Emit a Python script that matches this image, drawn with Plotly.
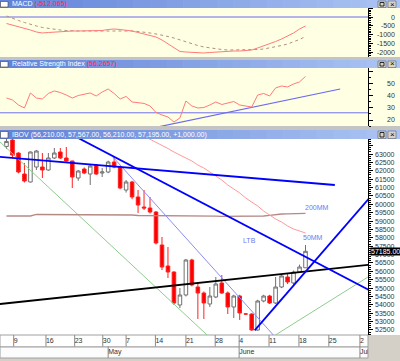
import plotly.graph_objects as go

W, H = 400, 361
FONT = "Liberation Sans"

# ---------------- data ----------------
bar = list(range(51))
opn = [63450, 63835, 63060, 61807, 61330, 62224, 62224, 62045, 62761, 63119,
       62761, 62582, 61568, 62105, 61807, 62344, 61866, 61926, 62523, 62224,
       60852, 61330, 60435, 59838, 59778, 59540, 57571, 56318, 55960, 53991,
       54588, 56676, 55065, 54707, 54051, 54469, 55304, 54707, 53872, 54528,
       53454, 53454, 52500, 54230, 54528, 54111, 55065, 55662, 55304, 55960,
       56210]
high = [63900, 63900, 63100, 62463, 63150, 63240, 63060, 63060, 63358, 63358,
        63418, 62600, 62050, 62200, 62350, 62400, 62165, 62600, 62821, 62300,
        61450, 61400, 60852, 60852, 60435, 59600, 58048, 57452, 56000, 55005,
        56736, 56750, 55363, 54800, 55065, 55662, 55781, 54800, 54600, 54600,
        53500, 53500, 54300, 54600, 54600, 55662, 55800, 55841, 56050, 56400,
        57567]
low = [63300, 62800, 61850, 61300, 61300, 62045, 61568, 62000, 62700, 62700,
       62550, 60972, 61400, 61800, 61150, 61750, 61628, 61850, 62150, 60900,
       60700, 60300, 59480, 59659, 59450, 57600, 56079, 55602, 54000, 53812,
       54500, 55100, 53156, 53156, 53872, 54400, 54650, 53454, 53216, 53096,
       53400, 52450, 52450, 54150, 54050, 54050, 55000, 55244, 55200, 55900,
       56210]
close = [63750, 62940, 61926, 61389, 63119, 63179, 62045, 62761, 63060, 62761,
         62582, 61628, 61986, 61866, 62284, 61807, 61926, 62523, 62224, 60972,
         61330, 60435, 59957, 59778, 59540, 57690, 56258, 55960, 54111, 54588,
         56676, 55184, 54707, 54111, 54528, 55244, 54707, 53872, 54528, 53514,
         53454, 52500, 54230, 54528, 54111, 55065, 55722, 55364, 55960, 56258,
         57195]

mm200 = [59301, 59301, 59301, 59301, 59301, 59391, 59391, 59391, 59391, 59391,
         59391, 59361, 59361, 59361, 59361, 59361, 59361, 59361, 59361, 59361,
         59361, 59361, 59331, 59331, 59331, 59331, 59331, 59331, 59331, 59331,
         59331, 59331, 59331, 59331, 59300, 59290, 59280, 59280, 59280, 59280,
         59280, 59270, 59270, 59300, 59340, 59390, 59420, 59430, 59445, 59455,
         59462]
mm50_bar = list(range(21, 51))
mm50 = [64432, 64253, 64074, 63865, 63716, 63537, 63328, 63119, 62940, 62761,
        62582, 62344, 62165, 61926, 61687, 61449, 61150, 60912, 60673, 60375,
        60136, 59898, 59599, 59361, 59122, 58943, 58704, 58525, 58406, 58287]

macd = [-371, -457, -543, -629, -743, -857, -914, -886, -857, -857,
        -829, -800, -800, -800, -800, -800, -771, -714, -686, -714,
        -743, -800, -886, -971, -1057, -1143, -1314, -1543, -1771, -1971,
        -2000, -2029, -2057, -2057, -2029, -2000, -2000, -1971, -1943, -1943,
        -1914, -1886, -1771, -1657, -1514, -1400, -1257, -1086, -914, -686,
        -512]
signal = [57, -86, -200, -314, -429, -514, -600, -657, -714, -743,
          -771, -800, -800, -800, -800, -800, -800, -800, -771, -771,
          -771, -800, -829, -857, -914, -971, -1029, -1114, -1200, -1314,
          -1429, -1543, -1629, -1714, -1771, -1829, -1857, -1886, -1886, -1886,
          -1886, -1886, -1857, -1829, -1771, -1714, -1629, -1543, -1429, -1286,
          -1114]
rsi = [38.3, 36.7, 32.5, 30.0, 42.5, 38.3, 37.5, 42.1, 44.2, 42.9,
       40.8, 38.3, 40.4, 41.7, 42.5, 40.0, 43.3, 45.8, 42.1, 37.5,
       39.6, 35.0, 34.6, 33.8, 31.7, 26.3, 24.2, 22.5, 18.3, 21.7,
       35.8, 31.7, 30.0, 30.4, 32.5, 35.0, 32.9, 34.2, 35.4, 32.5,
       31.7, 30.8, 40.8, 42.1, 40.0, 46.7, 48.3, 47.5, 50.0, 51.7,
       56.3]
rsi_level = 26
rsi_trend_x = [25, 55.8]
rsi_trend_y = [13.9, 45.8]
macd_zero = 0

# drawn trend lines (bar index, price)
resist_x, resist_y = [-1.2, 54.9], [62827, 61150]
ltb_x, ltb_y = [11, 61], [64140, 54810]
eta_x, eta_y = [41.5, 61], [52480, 60510]
support_x, support_y = [-1.2, 61], [54045, 56400]
thin_x, thin_y = [17.8, 45], [62820, 52050]
green1_x, green1_y = [-1.2, 35], [63754, 51716]
green2_x, green2_y = [44.3, 61], [52050, 55785]

day_labels = ["9", "16", "23", "30", "7", "14", "21", "28", "4", "11", "18", "25", "2"]
day_ticks = [1.2, 6.6, 11.4, 16.1, 20.0, 24.9, 30.0, 34.9, 38.9, 43.9, 48.9, 53.9, 59.1]
month_labels = ["April", "May", "June", "July"]
month_ticks = [-3.4, 17.0, 38.9, 59.1]

macd_ticks = [0, -500, -1000, -1500, -2000]
rsi_ticks = [20, 30, 40, 50]
price_ticks = list(range(52500, 63001, 500))
last_price_label = "57185.00"
last_close = 57195

# ---------------- figure ----------------
fig = go.Figure()
P = dict(xaxis="x", hoverinfo="skip", showlegend=False)

# MACD pane
fig.add_trace(go.Scatter(x=[-2, 62], y=[macd_zero, macd_zero], mode="lines",
                         line=dict(color="#6A6AF5", width=1), yaxis="y", **P))
fig.add_trace(go.Scatter(x=bar, y=signal, mode="lines",
                         line=dict(color="#B09080", width=1, dash="dot"), yaxis="y", **P))
fig.add_trace(go.Scatter(x=bar, y=macd, mode="lines",
                         line=dict(color="#FF7A7A", width=1), yaxis="y", **P))

# RSI pane
fig.add_trace(go.Scatter(x=[-2, 62], y=[rsi_level, rsi_level], mode="lines",
                         line=dict(color="#7070F0", width=1), yaxis="y2", **P))
fig.add_trace(go.Scatter(x=rsi_trend_x, y=rsi_trend_y, mode="lines",
                         line=dict(color="#6A6AF0", width=1.2), yaxis="y2", **P))
fig.add_trace(go.Scatter(x=bar, y=rsi, mode="lines",
                         line=dict(color="#FF7A7A", width=1), yaxis="y2", **P))

# price pane lines
def pline(x, y, color, width):
    fig.add_trace(go.Scatter(x=x, y=y, mode="lines", line=dict(color=color, width=width),
                             yaxis="y3", **P))

pline(green1_x, green1_y, "#8FCC8F", 1)
pline(green2_x, green2_y, "#8FCC8F", 1)
pline(bar, mm200, "#B58A86", 1.3)
pline(mm50_bar, mm50, "#FF9A9A", 1)
pline(thin_x, thin_y, "#8C8CF5", 1)

fig.add_trace(go.Candlestick(
    x=bar, open=opn, high=high, low=low, close=close, yaxis="y3", xaxis="x",
    increasing=dict(line=dict(color="#707070", width=1), fillcolor="white"),
    decreasing=dict(line=dict(color="#FF2020", width=1), fillcolor="#FF0000"),
    whiskerwidth=0, hoverinfo="skip", showlegend=False))

pline(support_x, support_y, "#000000", 1.8)
pline(resist_x, resist_y, "#0000FF", 1.8)
pline(ltb_x, ltb_y, "#0000FF", 1.8)
pline(eta_x, eta_y, "#0000FF", 1.8)

# x-axis date rows (text clipped by the axis)
tick_lx, tick_ly = [], []
for t in day_ticks:
    tick_lx += [t, t, None]
    tick_ly += [1.0, 2.0, None]
for t in month_ticks[1:]:
    tick_lx += [t, t, None]
    tick_ly += [0.0, 1.0, None]
fig.add_trace(go.Scatter(x=tick_lx, y=tick_ly, mode="lines",
                         line=dict(color="#8A8A8A", width=1), yaxis="y4", **P))
fig.add_trace(go.Scatter(x=day_ticks, y=[1.5] * len(day_ticks), mode="text",
                         text=day_labels, textposition="middle right",
                         textfont=dict(family=FONT, size=7, color="#333333"),
                         cliponaxis=True, yaxis="y4", **P))
fig.add_trace(go.Scatter(x=month_ticks, y=[0.5] * len(month_ticks), mode="text",
                         text=month_labels, textposition="middle right",
                         textfont=dict(family=FONT, size=7, color="#333333"),
                         cliponaxis=True, yaxis="y4", **P))

# ---------------- decoration ----------------
shapes, ann = [], []


def prect(x0, y0, x1, y1, fill, lw=0, lc=None, layer="below"):
    shapes.append(dict(type="rect", xref="paper", yref="paper",
                       x0=x0 / W, x1=x1 / W, y0=1 - y1 / H, y1=1 - y0 / H,
                       fillcolor=fill, line=dict(width=lw, color=lc or fill), layer=layer))


prect(0, 8, 400, 57, "#FFFFE4")
prect(0, 57, 400, 60, "#C4C4C4")
prect(0, 68, 400, 126, "#FFFFE4")
prect(0, 126, 400, 130, "#C4C4C4")
prect(0, 139, 400, 335, "#FFFFFF")
prect(0, 335, 368, 347, "#FFFFFF", 1, "#A0A0A0")
prect(0, 347, 368, 358, "#FCFCFC", 1, "#A0A0A0")


def lerp(c1, c2, t):
    a = [int(c1[i:i + 2], 16) for i in (1, 3, 5)]
    b = [int(c2[i:i + 2], 16) for i in (1, 3, 5)]
    return "#%02X%02X%02X" % tuple(round(a[k] + (b[k] - a[k]) * t) for k in range(3))


headers = [(0, 8, 'MACD <span style="color:#FF2A2A">(-512.065)</span>'),
           (60, 68, 'Relative Strength Index <span style="color:#FF2A2A">(56.2657)</span>'),
           (130, 139, "IBOV (56,210.00, 57,567.00, 56,210.00, 57,195.00, +1,000.00)")]
N = 24
for top, bot, title in headers:
    for k in range(N):
        prect(400 * k / N, top, 400 * (k + 1) / N + 0.5, bot,
              lerp("#6283D8", "#ABC4F3", k / (N - 1)), layer="above")
    prect(0.5, top + 1.5, 8, bot - 1, "#FFFFFF", 0.6, "#404040", layer="above")
    prect(378, top + 1, 386, bot - 0.5, "#D8D4CC", 0.6, "#606060", layer="above")
    prect(388, top + 1, 396, bot - 0.5, "#D8D4CC", 0.6, "#606060", layer="above")
    prect(380, top + 2.5, 384, bot - 2, "rgba(0,0,0,0)", 0.8, "#000000", layer="above")
    ann.append(dict(xref="paper", yref="paper", x=392 / W, y=1 - (top + bot) / 2 / H,
                    text="×", showarrow=False, xanchor="center", yanchor="middle",
                    font=dict(family=FONT, size=8, color="#000000")))
    ann.append(dict(xref="paper", yref="paper", x=10 / W, y=1 - (top + bot) / 2 / H,
                    text=title, showarrow=False, xanchor="left", yanchor="middle",
                    font=dict(family=FONT, size=7, color="#FFFFFF")))

# right-axis tick labels
for vals, yref in ((macd_ticks, "y"), (rsi_ticks, "y2"), (price_ticks, "y3")):
    for v in vals:
        ann.append(dict(xref="paper", yref=yref, x=397 / W, y=v, text=str(v),
                        showarrow=False, xanchor="right", yanchor="middle",
                        font=dict(family=FONT, size=7, color="#333333")))

ann.append(dict(xref="paper", yref="y3", x=370 / W, y=last_close, text=last_price_label,
                showarrow=False, xanchor="left", yanchor="middle", bgcolor="#000000",
                borderpad=0, font=dict(family=FONT, size=7, color="#FFFFFF")))

for txt, xv, yv in (("200MM", 51.9, 59838), ("50MM", 51.3, 58048), ("LTB", 40.7, 57869)):
    ann.append(dict(xref="x", yref="y3", x=xv, y=yv, text=txt, showarrow=False,
                    xanchor="center", yanchor="middle",
                    font=dict(family=FONT, size=7, color="#7777F0")))

yax = dict(side="right", anchor="x", showline=True, linecolor="#000000", linewidth=1,
           ticks="outside", ticklen=4, tickcolor="#000000", showticklabels=False,
           showgrid=False, zeroline=False, fixedrange=True)

fig.update_layout(
    width=W, height=H, margin=dict(l=0, r=0, t=0, b=0),
    paper_bgcolor="#D4D0C8", plot_bgcolor="rgba(0,0,0,0)", showlegend=False,
    boxgap=0.15,
    xaxis=dict(domain=[0, 368 / W], range=[-1.087, 60.45], anchor="y3",
               showticklabels=False, ticks="", showgrid=False, zeroline=False,
               showline=False, rangeslider=dict(visible=False), fixedrange=True),
    yaxis=dict(domain=[1 - 57 / H, 1 - 8 / H], range=[-2286, 514],
               tickmode="linear", tick0=0, dtick=500,
               minor=dict(ticks="outside", ticklen=2, tickcolor="#000000", dtick=100), **yax),
    yaxis2=dict(domain=[1 - 126 / H, 1 - 68 / H], range=[15, 63.3],
                tickmode="linear", tick0=0, dtick=10,
                minor=dict(ticks="outside", ticklen=2, tickcolor="#000000", dtick=5), **yax),
    yaxis3=dict(domain=[1 - 335 / H, 1 - 139 / H], range=[52201, 63895],
                tickmode="linear", tick0=0, dtick=500,
                minor=dict(ticks="outside", ticklen=2, tickcolor="#000000", dtick=125), **yax),
    yaxis4=dict(domain=[1 - 358 / H, 1 - 335 / H], range=[0, 2], anchor="x",
                visible=False, fixedrange=True),
    shapes=shapes, annotations=ann,
)

fig.write_html("out.html", config=dict(displayModeBar=False),
               post_script="document.body.style.margin='0';")
